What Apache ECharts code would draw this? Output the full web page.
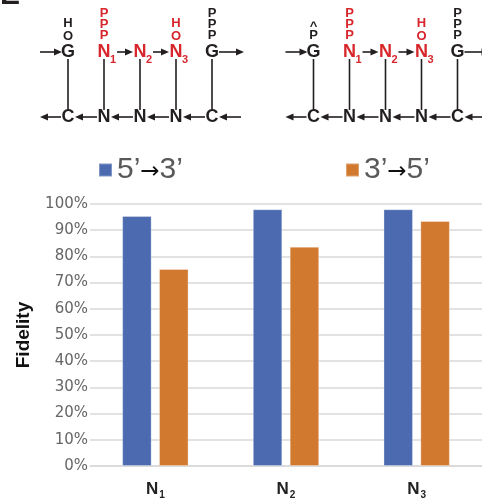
<!DOCTYPE html>
<html><head><meta charset="utf-8">
<style>html,body{margin:0;padding:0;background:#fff}#c{width:482px;height:504px}</style>
<script src="https://cdn.jsdelivr.net/npm/echarts@6/dist/echarts.min.js"></script>
</head><body><div id="c"></div>
<script>
// ---- data ----
var categories = ['N1', 'N2', 'N3'];
var seriesNames = ['5’→3’', '3’→5’'];
var forward = [0.954, 0.980, 0.980];   // 5'->3'
var reverse = [0.752, 0.837, 0.935];   // 3'->5'
var yTicks = [0, 0.1, 0.2, 0.3, 0.4, 0.5, 0.6, 0.7, 0.8, 0.9, 1.0];

var BLUE = '#4C6AAF', ORANGE = '#D1792F', RED = '#D7262C', INK = '#231f20';

// ---- top schematic (decoration) ----
var g = [];
function txt(s, x, y, size, color) {
  g.push({type: 'text', silent: true, style: {text: s, x: x, y: y, fill: color,
    font: 'bold ' + size + 'px "Liberation Sans", Arial, sans-serif',
    align: 'center', verticalAlign: 'middle', textAlign: 'center', textVerticalAlign: 'middle'}});
}
function line(x1, y1, x2, y2) {
  g.push({type: 'line', silent: true, shape: {x1: x1, y1: y1, x2: x2, y2: y2},
    style: {stroke: INK, lineWidth: 1.6}});
}
function arrow(x1, x2, y) { // from x1 to tip at x2 (horizontal)
  var d = x2 > x1 ? 1 : -1, L = 8, W = 3.6;
  line(x1, y, x2 - d * (L - 1), y);
  g.push({type: 'polygon', silent: true, shape: {points: [[x2, y], [x2 - d * L, y - W], [x2 - d * L, y + W]]},
    style: {fill: INK}});
}
function schematic(ox, firstTop, firstTopY) {
  var cols = [68, 104, 140, 176, 212].map(function (v) { return v + ox; });
  var yt = 52, yb = 117;
  txt('G', cols[0], yt, 18, INK);
  txt('N', cols[1], yt, 18, RED);
  txt('N', cols[2], yt, 18, RED);
  txt('N', cols[3], yt, 18, RED);
  txt('G', cols[4], yt, 18, INK);
  txt('1', cols[1] + 9, 60, 11, RED);
  txt('2', cols[2] + 9, 60, 11, RED);
  txt('3', cols[3] + 9, 60, 11, RED);
  for (var i = 0; i < firstTop.length; i++) txt(firstTop[i], cols[0], firstTopY[i], 13, INK);
  ['P', 'P', 'P'].forEach(function (p, i) { txt(p, cols[1], 13 + i * 11, 13, RED); });
  txt('H', cols[3], 23, 13, RED); txt('O', cols[3], 36, 13, RED);
  ['P', 'P', 'P'].forEach(function (p, i) { txt(p, cols[4], 13 + i * 11, 13, INK); });
  arrow(cols[0] - 28, cols[0] - 6, yt);
  arrow(cols[1] + 13, cols[2] - 7, yt);
  arrow(cols[2] + 13, cols[3] - 7, yt);
  arrow(cols[4] + 7, cols[4] + 32, yt);
  ['C', 'N', 'N', 'N', 'C'].forEach(function (c, i) { txt(c, cols[i], yb, 18, INK); });
  arrow(cols[0] - 7, cols[0] - 28, yb);
  for (var k = 0; k < 4; k++) arrow(cols[k + 1] - 7, cols[k] + 7, yb);
  arrow(cols[4] + 29, cols[4] + 7, yb);
  cols.forEach(function (x) { line(x, 59, x, 110); });
}
txt('E', 10, -4, 30, INK);
schematic(0, ['H', 'O'], [23, 36]);
schematic(245.5, ['^', 'P'], [26, 35]);

// ---- chart ----
var chart = echarts.init(document.getElementById('c'), null, {renderer: 'canvas'});
var legendRich = {
  a: {fontSize: 30, color: '#595959', fontFamily: '"Liberation Sans", Arial, sans-serif', lineHeight: 34},
  b: {fontSize: 23, color: '#111', fontFamily: '"DejaVu Sans", sans-serif', lineHeight: 34, padding: [4, 0, 0, 0]}
};
function legendFmt(name) {
  var p = name.split('→');
  return '{a|' + p[0] + '}{b|→}{a|' + p[1] + '}';
}
chart.setOption({
  animation: false,
  graphic: g,
  legend: [
    {data: [seriesNames[0]], left: 98, top: 155, padding: 0, icon: 'rect', itemWidth: 13, itemHeight: 13,
      formatter: legendFmt, textStyle: {rich: legendRich}, selectedMode: false},
    {data: [seriesNames[1]], left: 345, top: 155, padding: 0, icon: 'rect', itemWidth: 13, itemHeight: 13,
      formatter: legendFmt, textStyle: {rich: legendRich}, selectedMode: false}
  ],
  grid: {left: 90, top: 204, width: 394, height: 262, containLabel: false},
  xAxis: {
    type: 'category', data: categories,
    axisLine: {lineStyle: {color: '#d9d9d9', width: 1.5}},
    axisTick: {show: false},
    axisLabel: {
      margin: 13,
      formatter: function (v) { return '{n|' + v.charAt(0) + '}{s|' + v.slice(1) + '}'; },
      rich: {
        n: {fontSize: 17, fontWeight: 'bold', color: '#222', fontFamily: '"Liberation Sans", Arial, sans-serif', lineHeight: 20},
        s: {fontSize: 10, fontWeight: 'bold', color: '#222', fontFamily: '"Liberation Sans", Arial, sans-serif', lineHeight: 20, padding: [13, 0, 0, 1]}
      }
    }
  },
  yAxis: {
    type: 'value', min: 0, max: 1, interval: 0.1,
    name: 'Fidelity', nameLocation: 'middle', nameGap: 57, nameRotate: 90,
    nameTextStyle: {fontSize: 19, fontWeight: 'bold', color: '#111', fontFamily: '"Liberation Sans", Arial, sans-serif'},
    axisLine: {show: false}, axisTick: {show: false},
    splitLine: {lineStyle: {color: '#d9d9d9', width: 1.5}},
    axisLabel: {
      margin: 2, fontSize: 15, color: '#666', fontFamily: '"DejaVu Sans", sans-serif',
      customValues: yTicks,
      formatter: function (v) { return Math.round(v * 100) + '%'; }
    }
  },
  series: [
    {name: seriesNames[0], type: 'bar', data: forward, barWidth: 29.5, barGap: '25%',
      itemStyle: {color: BLUE, borderColor: 'rgba(255,255,255,0.3)', borderWidth: 1}},
    {name: seriesNames[1], type: 'bar', data: reverse, barWidth: 29.5, barGap: '25%',
      itemStyle: {color: ORANGE, borderColor: 'rgba(255,255,255,0.3)', borderWidth: 1}}
  ]
});
</script></body></html>
